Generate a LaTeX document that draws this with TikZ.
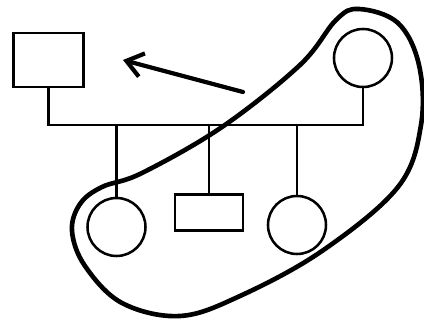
\documentclass[tikz,border=0pt]{standalone}
\usepackage{tikz}
\usetikzlibrary{arrows.meta, positioning, calc}

\begin{document}
\begin{tikzpicture}[x=0.025cm, y=-0.025cm,%
  male/.style={draw, line width=2pt, inner sep=0pt, minimum width=1.75cm, minimum height=1.35cm},%
  female/.style={draw, circle, line width=1.8pt, inner sep=0pt, minimum size=1.45cm},%
  kin/.style={line width=2pt, line join=miter},%
  group/.style={line width=3.3pt},%
  pointer/.style={line width=3pt, line cap=round, -{Straight Barb[length=0.4cm, width=0.6cm, line width=3pt]}}%
]
  \useasboundingbox (0,0) rectangle (424,322);
  % Eltern
  \node[male] (father) at (48.5,60) {};
  \node[female] (mother) at (363,58) {};
  \coordinate (bar) at (0,125);
  \draw[kin] (father.south) |- (bar -| mother.south) -- (mother.south);
  % Kinder
  \node[female] (kid1) at (116.5,227) {};
  \node[male, minimum width=1.7cm, minimum height=0.88cm] (kid2) at (209,212.5) {};
  \node[female] (kid3) at (297,225) {};
  \draw[kin] (kid1.north) -- (kid1.north |- bar);
  \draw[kin] (kid2.north) -- (kid2.north |- bar);
  \draw[kin] (kid3.north) -- (kid3.north |- bar);
  % Umrandung
  \draw[group] plot[smooth cycle, tension=0.6] coordinates {(359,9) (398,23) (419,65) (421,125) (398,187) (322,251) (240,296) (180,316) (122,303) (85,266) (72,231) (80,204) (102,187) (142,173) (222,127) (300,65) (336,20)};
  % Pfeil
  \coordinate (ptail) at (243,92);
  \coordinate (phead) at (123,60);
  \draw[pointer] (ptail) -- (phead);
\end{tikzpicture}
\end{document}
